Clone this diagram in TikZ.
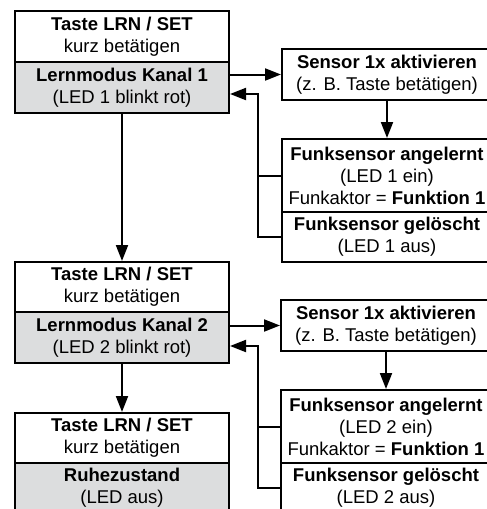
\documentclass[tikz,border=0pt]{standalone}
\usepackage{fontspec}
\setmainfont{Liberation Sans}
\usetikzlibrary{arrows.meta}
\definecolor{boxgrey}{RGB}{220,221,222}
\begin{document}
\begin{tikzpicture}[x=1pt,y=-1pt,
  box/.style={draw=black,line width=2pt,inner sep=0pt,align=center,anchor=north west,
    font=\fontsize{18.5}{22}\selectfont},
  lbox/.style={box,minimum width=214pt},
  rbox/.style={box,minimum width=210pt},
  wfill/.style={fill=white},
  gfill/.style={fill=boxgrey},
  ln/.style={line width=2pt,line join=miter},
  arr/.style={ln,-{Triangle[length=16pt,width=12pt]}}]
\useasboundingbox (0,0) rectangle (487,509);
\clip (0,0) rectangle (487,509);
% left column
\node[lbox,wfill,minimum height=51pt] (A1) at (14,10) {\textbf{Taste LRN / SET}\\kurz betätigen};
\node[lbox,gfill,minimum height=51pt] (A2) at (14,61) {\textbf{Lernmodus Kanal 1}\\(LED 1 blinkt rot)};
\node[lbox,wfill,minimum height=50pt] (B1) at (14,261) {\textbf{Taste LRN / SET}\\kurz betätigen};
\node[lbox,gfill,minimum height=51pt] (B2) at (14,311) {\textbf{Lernmodus Kanal 2}\\(LED 2 blinkt rot)};
\node[lbox,wfill,minimum height=50pt] (C1) at (14,412) {\textbf{Taste LRN / SET}\\kurz betätigen};
\node[lbox,gfill,minimum height=50pt] (C2) at (14,462) {\textbf{Ruhezustand}\\(LED aus)};
% right column
\node[rbox,wfill,minimum height=51pt] (S1) at (281,48) {\textbf{Sensor 1x aktivieren}\\(z. B. Taste betätigen)};
\node[rbox,wfill,minimum height=73pt] (F1a) at (281,138) {\textbf{Funksensor angelernt}\\(LED 1 ein)\\Funkaktor = \textbf{Funktion 1}};
\node[rbox,wfill,minimum height=50pt] (F1b) at (281,211) {\textbf{Funksensor gelöscht}\\(LED 1 aus)};
\node[rbox,wfill,minimum height=51pt] (S2) at (280,299) {\textbf{Sensor 1x aktivieren}\\(z. B. Taste betätigen)};
\node[rbox,wfill,minimum height=73pt] (F2a) at (280,389) {\textbf{Funksensor angelernt}\\(LED 2 ein)\\Funkaktor = \textbf{Funktion 1}};
\node[rbox,wfill,minimum height=50pt] (F2b) at (280,462) {\textbf{Funksensor gelöscht}\\(LED 2 aus)};
% connectors
\draw[arr] (A2.south) -- (B1.north);
\draw[arr] (B2.south) -- (C1.north);
\draw[arr] (S1.south) -- (F1a.north);
\draw[arr] (S2.south) -- (F2a.north);
\draw[arr] (A2.east |- S1.west) -- (S1.west);
\draw[arr] (B2.east |- S2.west) -- (S2.west);
\coordinate (R1) at (258,94);
\coordinate (R2) at (258,346);
\draw[arr] (F1b.west) -| (R1) -- (A2.east |- R1);
\draw[ln] (F1a.west) -- (F1a.west -| R1);
\draw[arr] (F2b.west) -| (R2) -- (B2.east |- R2);
\draw[ln] (F2a.west) -- (F2a.west -| R2);
\end{tikzpicture}
\end{document}
